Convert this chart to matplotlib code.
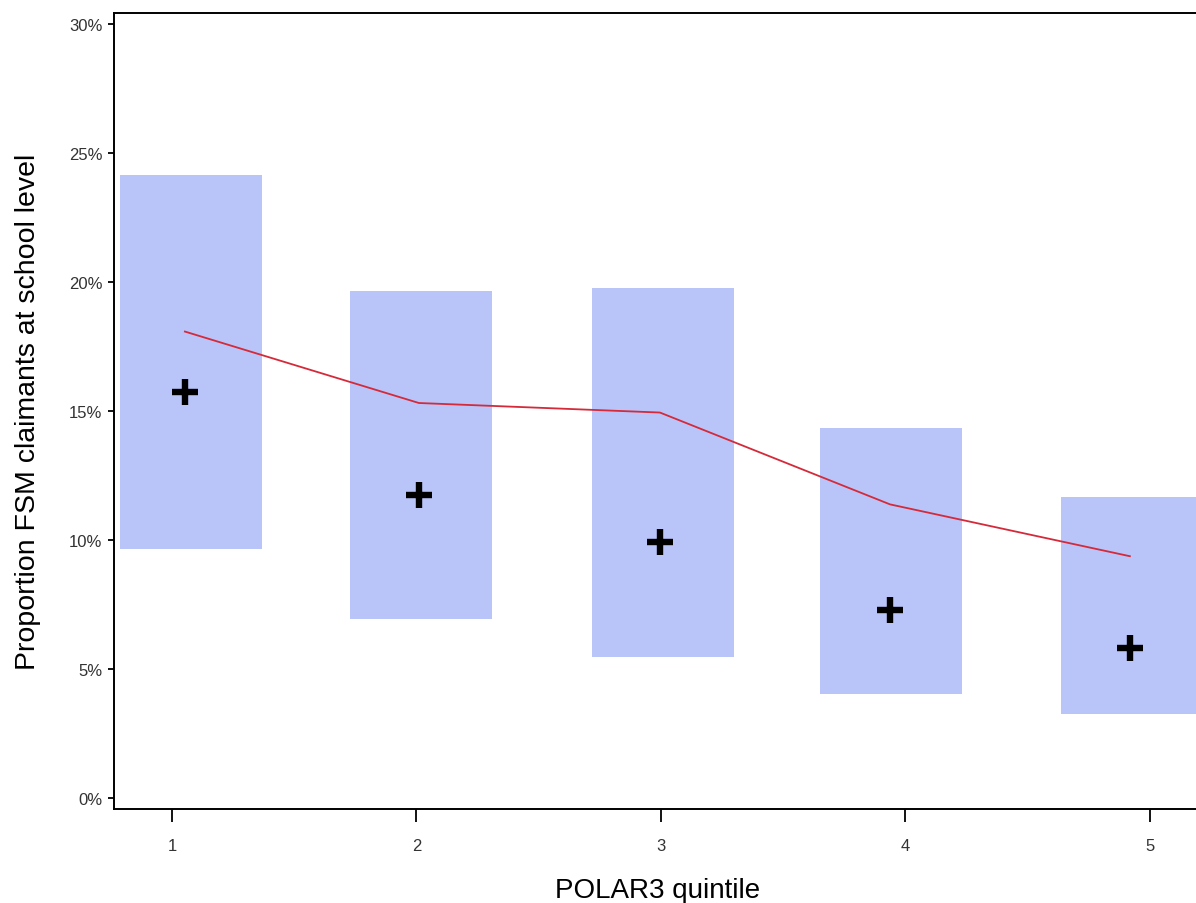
import matplotlib
matplotlib.use("Agg")
import matplotlib.pyplot as plt
from matplotlib.ticker import FuncFormatter

plt.rcParams['font.family'] = ['Liberation Sans', 'DejaVu Sans']

# Data (percent)
quintiles = [1, 2, 3, 4, 5]
box_centers = [1.078, 2.018, 3.008, 3.941, 4.926]
box_low = [9.64, 6.93, 5.46, 4.03, 3.25]
box_high = [24.16, 19.67, 19.78, 14.36, 11.65]
mean_x = [1.053, 2.010, 2.996, 3.937, 4.918]
mean_vals = [15.72, 11.73, 9.91, 7.28, 5.81]
line_vals = [18.08, 15.31, 14.94, 11.38, 9.37]
y_ticks = [0, 5, 10, 15, 20, 25, 30]
box_width = 0.581

fig = plt.figure(figsize=(11.96, 9.04), dpi=100)
ax = fig.add_axes([114/1196, 1 - 810/904, (1202 - 114)/1196, (810 - 14)/904])

heights = [h - l for h, l in zip(box_high, box_low)]
ax.bar(box_centers, heights, width=box_width, bottom=box_low,
       color='#B9C5F9', edgecolor='none', zorder=1)
ax.plot(mean_x, line_vals, color='#D42A3A', lw=1.3, zorder=2)
ax.plot(mean_x, mean_vals, linestyle='none', marker='+', markersize=18.5,
        markeredgewidth=4.6, color='black', zorder=3)

ax.set_xlim(0.763, 5.213)
ax.set_ylim(-0.43, 30.43)
ax.set_xticks(quintiles)
ax.set_yticks(y_ticks)
ax.yaxis.set_major_formatter(FuncFormatter(lambda v, p: f"{int(v)}%"))

for s in ['left', 'bottom', 'top', 'right']:
    ax.spines[s].set_linewidth(1.4)
    ax.spines[s].set_color('black')

ax.tick_params(axis='x', length=9, width=1.3, labelsize=12, pad=12, colors='black', labelcolor='#333333')
ax.tick_params(axis='y', length=4.5, width=1.3, labelsize=12, pad=4, colors='black', labelcolor='#333333')

ax.set_xlabel('POLAR3 quintile', fontsize=20, labelpad=17)
ax.set_ylabel('Proportion FSM claimants at school level', fontsize=20.5, labelpad=20)

fig.savefig('out.png', dpi=100, facecolor='white')
